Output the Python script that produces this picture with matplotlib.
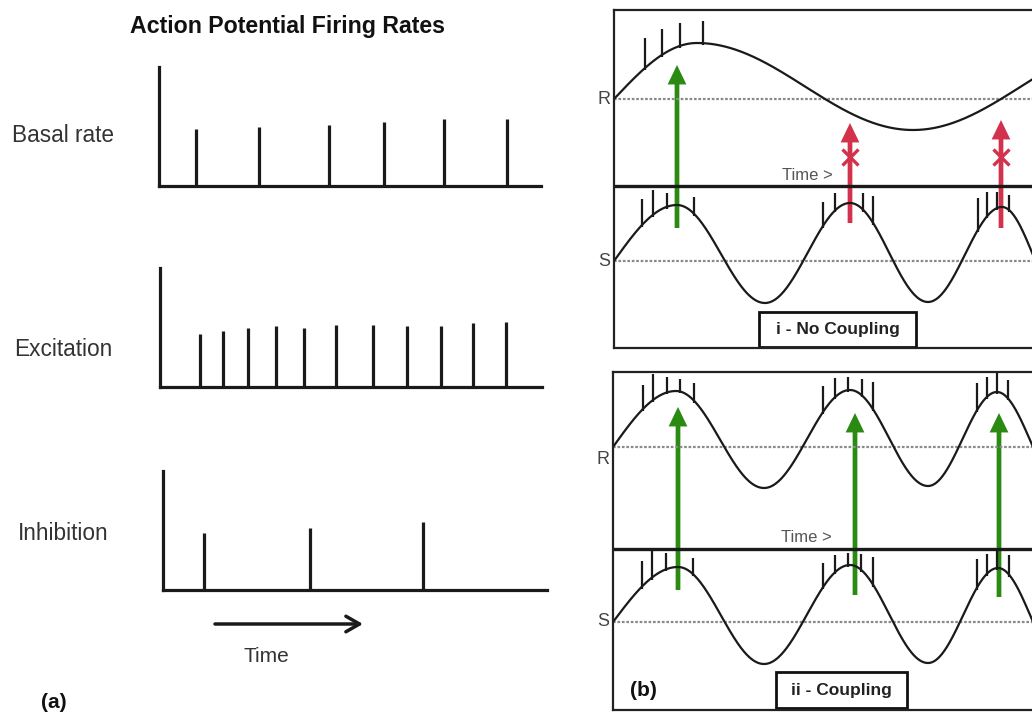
import numpy as np
import matplotlib.pyplot as plt
from matplotlib.patches import Rectangle, FancyArrowPatch

plt.rcParams['font.family'] = ['Liberation Sans', 'DejaVu Sans']

W, H = 1032, 714

# (a) spike rasters: spike times along the axis (0-100) and spike heights (0-100)
basal_t = [9.7, 26.2, 44.5, 58.9, 74.6, 91.1]
basal_h = [47.9, 49.6, 51.3, 53.8, 56.3, 56.3]
excit_t = [10.5, 16.5, 23.0, 30.4, 37.7, 46.1, 55.8, 64.7, 73.6, 81.9, 90.6]
excit_h = [44.5, 47.1, 49.6, 51.3, 49.6, 52.1, 52.1, 51.3, 51.3, 53.8, 54.6]
inhib_t = [10.7, 38.3, 67.7]
inhib_h = [47.9, 52.1, 57.1]
raster_names = ['Basal rate', 'Excitation', 'Inhibition']

# (b) oscillation traces: start point on the rest line, then alternating peaks/troughs
nc_R_start = (0, 249)
nc_R_ext = [(83, 305), (299, 218), (515, 305)]
nc_S_start = (0, 87)
nc_S_ext = [(63, 143), (151, 45), (236, 145), (314, 46), (388, 141), (450, 45), (520, 141)]
cp_R_start = (0, 263)
cp_R_ext = [(63, 319), (151, 222), (237, 320), (315, 224), (384, 318), (450, 222), (520, 318)]
cp_S_start = (0, 88)
cp_S_ext = [(65, 143), (151, 46), (237, 145), (315, 47), (385, 142), (450, 46), (520, 142)]

# spikes riding on the peaks: x position and tip level
nc_R_spk_x = [31, 48, 66, 89]
nc_R_spk_top = [310, 319, 325, 327]
nc_S_spk_x = [28, 39, 53, 80, 209, 221, 249, 259, 364, 373, 383, 395]
nc_S_spk_top = [149, 158, 155, 151, 146, 155, 155, 152, 150, 156, 156, 153]
cp_R_spk_x = [30, 40, 54, 67, 81, 210, 222, 235, 249, 260, 364, 374, 384, 395]
cp_R_spk_top = [325, 336, 333, 331, 327, 324, 332, 333, 331, 328, 327, 333, 337, 330]
cp_S_spk_x = [29, 39, 53, 80, 210, 222, 235, 248, 260, 364, 374, 384, 396]
cp_S_spk_top = [149, 159, 157, 152, 147, 155, 157, 156, 153, 151, 156, 160, 155]

# S -> R drive arrows: x, tail, tip
nc_ok_arrows = [(63, 120, 283)]
nc_blocked_arrows = [(236, 125, 225), (387, 120, 228)]
nc_block_y = 191
cp_arrows = [(65, 120, 303), (242, 115, 297), (386, 113, 297)]

GREEN = '#2a8a12'
RED = '#d2324b'
INK = '#1a1a1a'


def frac(x0, y_top, w, h):
    return [x0 / W, 1 - (y_top + h) / H, w / W, h / H]


def trace(x, start, ext):
    y = np.full_like(x, np.nan, dtype=float)
    x0, y0 = start
    xp, yp = ext[0]
    m = (x >= x0) & (x <= xp)
    y[m] = y0 + (yp - y0) * np.sin(np.pi / 2 * (x[m] - x0) / (xp - x0))
    for (xa, ya), (xb, yb) in zip(ext[:-1], ext[1:]):
        m = (x >= xa) & (x <= xb)
        t = (x[m] - xa) / (xb - xa)
        y[m] = (ya + yb) / 2 + (ya - yb) / 2 * np.cos(np.pi * t)
    return y


fig = plt.figure(figsize=(W / 100, H / 100), dpi=100)

# ---- (a) firing rates ----
fig.text(288 / W, 1 - 27 / H, 'Action Potential Firing Rates', ha='center', va='center',
         fontsize=16.7, fontweight='bold', color='#111')

raster_boxes = [(159, 67, 382, 119), (160, 268, 382, 119), (163, 471, 384, 119)]
raster_label_y = [135, 350, 534]
for name, times, heights, box, ly in zip(raster_names, [basal_t, excit_t, inhib_t],
                                         [basal_h, excit_h, inhib_h], raster_boxes, raster_label_y):
    ax = fig.add_axes(frac(*box))
    ax.vlines(times, 0, heights, color=INK, lw=2.3)
    ax.set_xlim(0, 100)
    ax.set_ylim(0, 100)
    for side in ['top', 'right']:
        ax.spines[side].set_visible(False)
    for side in ['left', 'bottom']:
        ax.spines[side].set_linewidth(2.3)
        ax.spines[side].set_color(INK)
    ax.set_xticks([])
    ax.set_yticks([])
    ax.patch.set_alpha(0)
    fig.text(63 / W, 1 - ly / H, name, ha='center', va='center', fontsize=16.3, color='#333')

time_arrow = FancyArrowPatch((215 / W, 1 - 624 / H), (363 / W, 1 - 624 / H),
                             transform=fig.transFigure, arrowstyle='->,head_length=0.7,head_width=0.4',
                             mutation_scale=14, lw=2.5, color=INK, shrinkA=0, shrinkB=0)
fig.add_artist(time_arrow)
fig.text(266 / W, 1 - 657 / H, 'Time', ha='center', va='center', fontsize=15, color='#333')
fig.text(54 / W, 1 - 703 / H, '(a)', ha='center', va='center', fontsize=15,
         fontweight='bold', color='#111')

# ---- (b) coupling diagrams ----
xs = np.linspace(0, 486, 1500)


def draw_frame(box, R_start, R_ext, S_start, S_ext, R_spk, S_spk, divider, R_lab_y, tag, tag_box):
    ax = fig.add_axes(frac(*box))
    ax.set_xlim(0, 486)
    ax.set_ylim(0, 338)
    ax.set_xticks([])
    ax.set_yticks([])
    ax.spines['right'].set_visible(False)
    for side in ['left', 'top', 'bottom']:
        ax.spines[side].set_linewidth(1.6)
        ax.spines[side].set_color('#222')
    ax.axhline(divider, color=INK, lw=2.4)
    for start, ext, (sx, stop) in [(R_start, R_ext, R_spk), (S_start, S_ext, S_spk)]:
        ax.axhline(start[1], color='#8a8a8a', lw=1.6, ls=(0, (1.2, 0.8)))
        ax.plot(xs, trace(xs, start, ext), color=INK, lw=1.6)
        sx = np.array(sx, dtype=float)
        base = trace(sx, start, ext) - 2
        ax.vlines(sx, base, stop, color=INK, lw=1.6)
    ax.text(-10, R_lab_y, 'R', ha='center', va='center', fontsize=13, color='#444')
    ax.text(-10, S_start[1], 'S', ha='center', va='center', fontsize=13, color='#444')
    ax.text(193, 173, 'Time >', ha='center', va='center', fontsize=12, color='#555')
    bx, by, bw, bh = tag_box
    ax.add_patch(Rectangle((bx, by), bw, bh, fill=True, facecolor='white',
                           edgecolor='#111', lw=2))
    ax.text(bx + bw / 2, by + bh / 2, tag, ha='center', va='center', fontsize=12.5,
            fontweight='bold', color='#222')
    return ax


def drive_arrow(ax, x, y0, y1, color):
    ax.add_patch(FancyArrowPatch((x, y0), (x, y1),
                                 arrowstyle='simple,head_length=1.4,head_width=1.35,tail_width=0.34',
                                 mutation_scale=10, color=color, lw=0, shrinkA=0, shrinkB=0))


ax_nc = draw_frame((614, 10, 486, 338), nc_R_start, nc_R_ext, nc_S_start, nc_S_ext,
                   (nc_R_spk_x, nc_R_spk_top), (nc_S_spk_x, nc_S_spk_top), 162, 249,
                   'i - No Coupling', (145, 1, 157, 35))
for x, y0, y1 in nc_ok_arrows:
    drive_arrow(ax_nc, x, y0, y1, GREEN)
for x, y0, y1 in nc_blocked_arrows:
    drive_arrow(ax_nc, x, y0, y1, RED)
    ax_nc.plot(x, nc_block_y, marker='x', ms=11, mew=2.4, color=RED)

ax_cp = draw_frame((613, 372, 486, 338), cp_R_start, cp_R_ext, cp_S_start, cp_S_ext,
                   (cp_R_spk_x, cp_R_spk_top), (cp_S_spk_x, cp_S_spk_top), 161, 250,
                   'ii - Coupling', (163, 2, 131, 36))
for x, y0, y1 in cp_arrows:
    drive_arrow(ax_cp, x, y0, y1, GREEN)
ax_cp.text(30, 20, '(b)', ha='center', va='center', fontsize=15, fontweight='bold', color='#111')

fig.savefig('out.png', dpi=100)
